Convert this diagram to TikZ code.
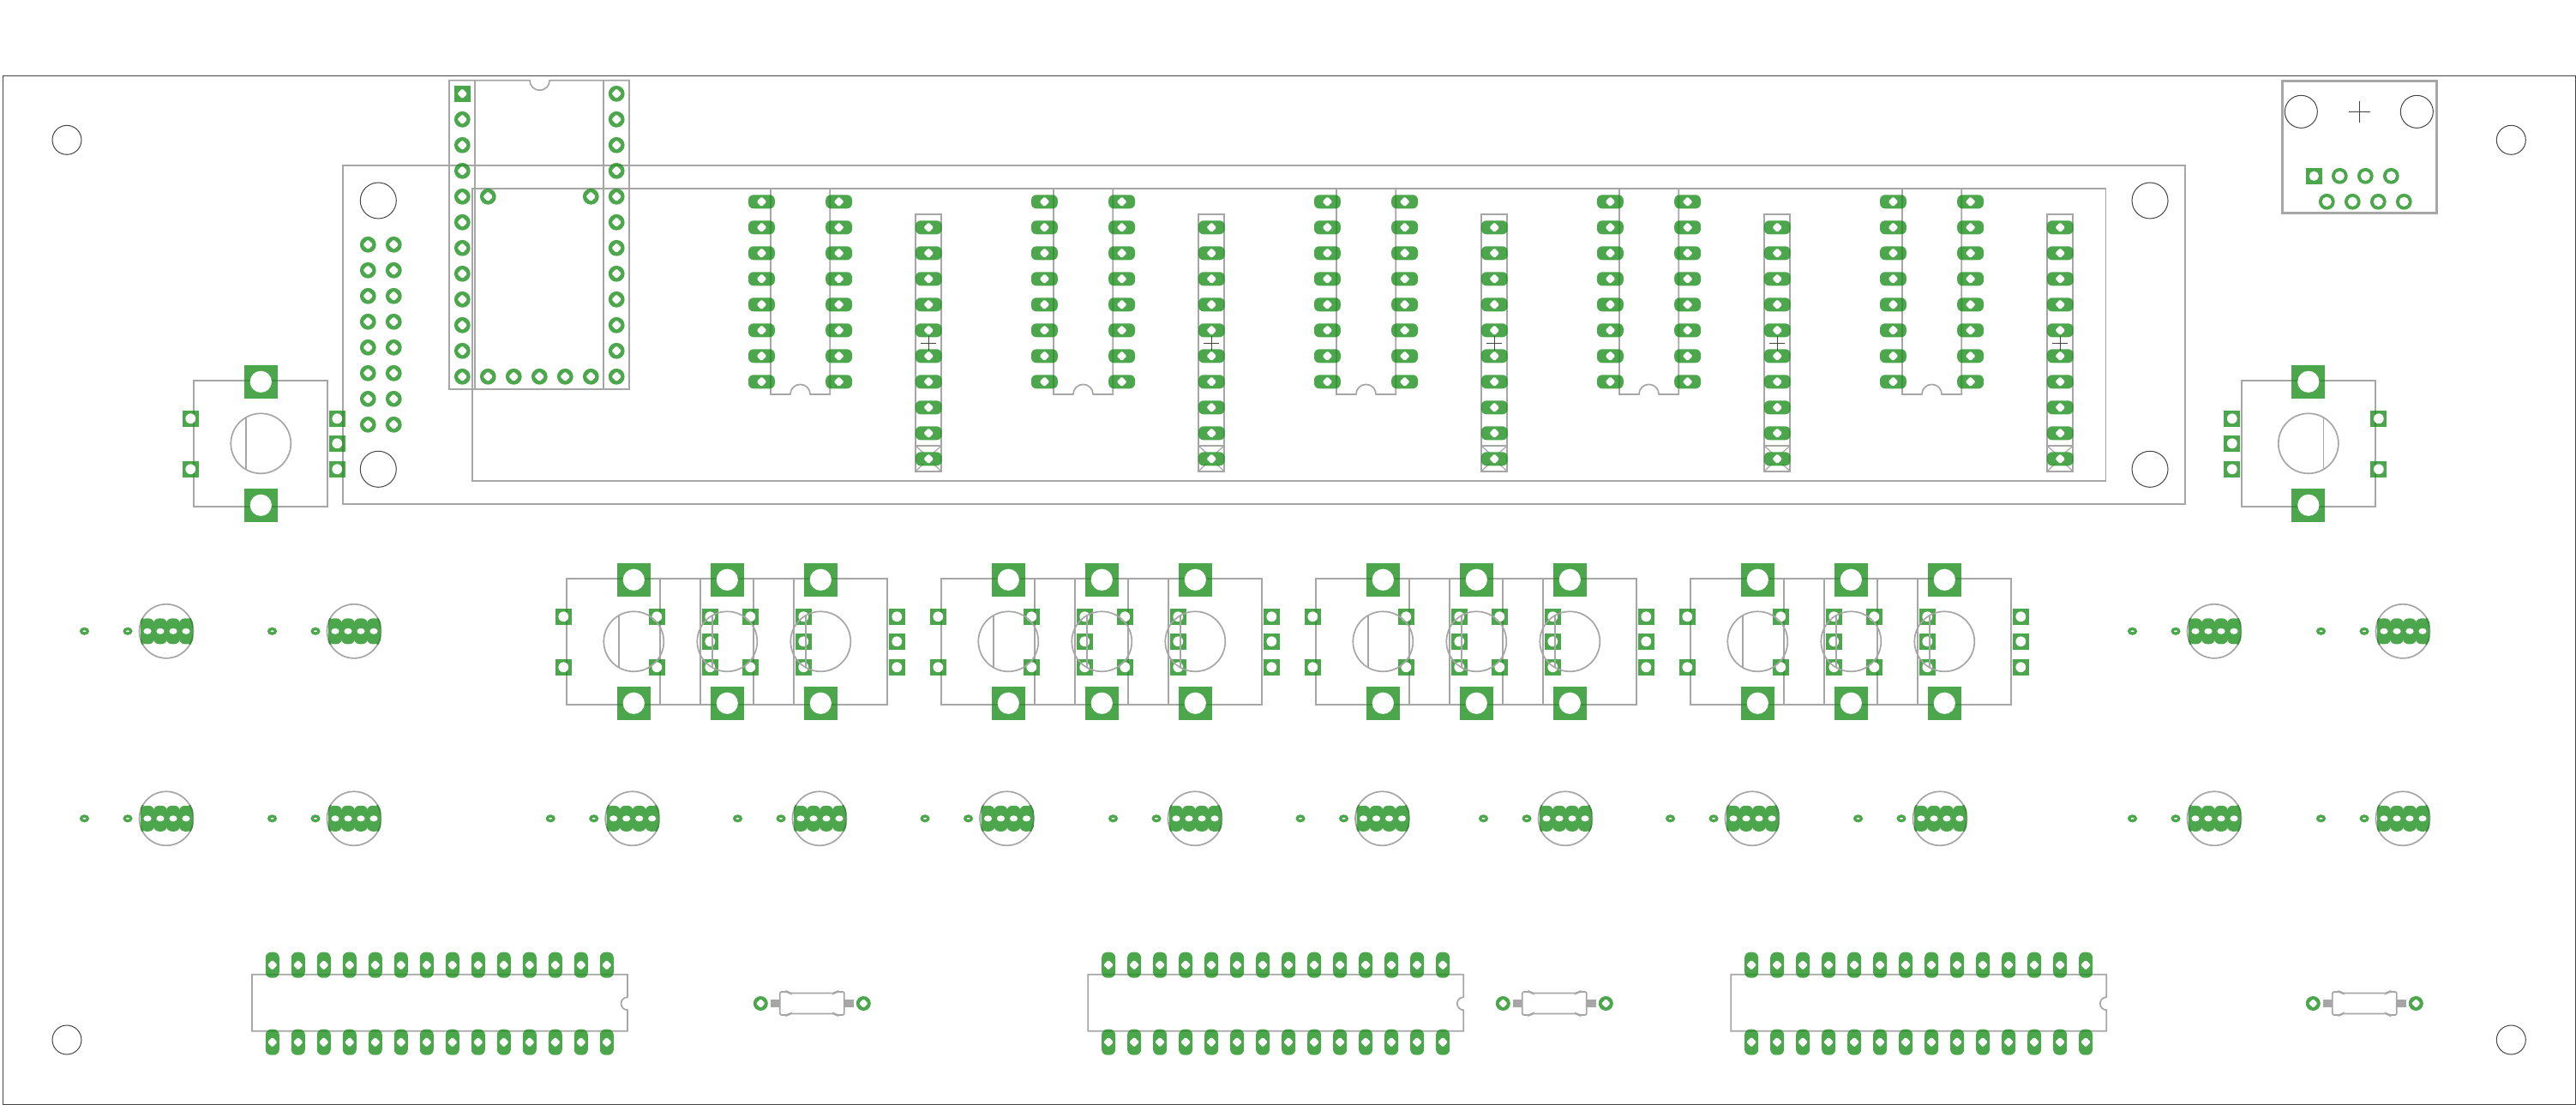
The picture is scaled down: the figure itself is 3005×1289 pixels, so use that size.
\documentclass[tikz,border=0pt]{standalone}
\definecolor{pcbgreen}{HTML}{1A8D1A}
\definecolor{pcbsolid}{HTML}{4CA64C}
\definecolor{pcbdark}{HTML}{3A8A3A}
\definecolor{outl}{HTML}{A6A6A6}
\definecolor{thinl}{HTML}{444444}
\tikzset{
  ln/.style={draw=outl,line width=1.7pt,line join=miter},
  thin line/.style={draw=thinl,line width=1pt},
  padfill/.style={fill=pcbgreen,fill opacity=.78},
}
\newcommand\hol[3]{\fill[white,shift={(#1,#2)},scale=#3] (-4.9,-1)--(-1,-4.9)--(1,-4.9)--(4.9,-1)--(4.9,1)--(1,4.9)--(-1,4.9)--(-4.9,1)--cycle;}
\newcommand\ringpad[2]{\fill[padfill] (#1,#2) circle[radius=9.4];\hol{#1}{#2}{1}}
\newcommand\sqpad[2]{\fill[padfill] ({#1-9.5},{#2-9.5}) rectangle ({#1+9.5},{#2+9.5});\hol{#1}{#2}{1}}
\newcommand\ringbig[2]{\fill[padfill] (#1,#2) circle[radius=9.4];\fill[white] (#1,#2) circle[radius=5.6];}
\newcommand\hpad[2]{\fill[padfill,rounded corners=6pt] ({#1-15.4},{#2-8}) rectangle ({#1+15.4},{#2+8});\hol{#1}{#2}{1}}
\newcommand\vpad[2]{\fill[padfill,rounded corners=6.5pt] ({#1-8},{#2-15}) rectangle ({#1+8},{#2+15});\hol{#1}{#2}{1}}
\newcommand\potrect[3]{\begin{scope}[shift={(#1,#2)},xscale=#3]\draw[ln] (-78,-73.6) rectangle (78,73.4);\end{scope}}
\newcommand\potpads[3]{\begin{scope}[shift={(#1,#2)},xscale=#3]
  \foreach \yy in {-72,72}{\fill[padfill] (-19.5,{\yy-19.5}) rectangle (19.5,{\yy+19.5});\fill[white] (0,\yy) circle[radius=12.6];}
  \foreach \yy in {-29,30}{\fill[padfill] (-91.5,{\yy-9.5}) rectangle (-72.5,{\yy+9.5});\fill[white] (-82,\yy) circle[radius=5.9];}
  \foreach \yy in {-29,0,30}{\fill[padfill] (79.5,{\yy-9.5}) rectangle (98.5,{\yy+9.5});\fill[white] (89,\yy) circle[radius=5.9];}
\end{scope}}
\newcommand\potcirc[3]{\begin{scope}[shift={(#1,#2)},xscale=#3]
  \draw[ln] (0,0) circle[radius=35];
  \draw[ln] (-17.6,-30.2) -- (-17.6,30.2);
  \draw[draw=outl,line width=1pt] (-36,0) -- (-34,0);
\end{scope}}
\newcommand\led[2]{
  \draw[ln] (#1,#2) circle[radius=31.5];
  \foreach \dx in {-95.5,-45}{\fill[pcbsolid] ({#1+\dx},#2) ellipse[x radius=5.6,y radius=4.6];\fill[white] ({#1+\dx},#2) ellipse[x radius=2,y radius=.9];}
  \foreach \dx in {-22,-7,8,23}{\fill[pcbsolid,rounded corners=6.5pt] ({#1+\dx-8},{#2-15}) rectangle ({#1+\dx+8},{#2+15});}
  \fill[pcbsolid] ({#1+23},{#2-10}) rectangle ({#1+31},{#2+10});
  \foreach \dx in {-22,-7,8,23}{\fill[white] ({#1+\dx},#2) ellipse[x radius=4.6,y radius=3.5];}
  \begin{scope}\clip ({#1-30},{#2-15}) rectangle ({#1+31},{#2+15});\draw[draw=pcbdark,line width=1.7pt] (#1,#2) circle[radius=31.5];\end{scope}
}
\newcommand\icline[1]{\begin{scope}[shift={(#1,0)}]
  \draw[ln] (294,1136.7) -- (732,1136.7) -- (732,1163.2) arc[start angle=270,end angle=90,radius=7.5] -- (732,1202.7) -- (294,1202.7) -- cycle;
\end{scope}}
\newcommand\icpads[1]{\foreach \k in {0,...,13}{\vpad{#1+317.8+30*\k}{1125.7}\vpad{#1+317.8+30*\k}{1215.7}}}
\newcommand\res[1]{\begin{scope}[shift={(#1,1170.5)}]
  \fill[outl] (-48.5,-4.4) rectangle (-37.5,4.4);
  \fill[outl] (37.5,-4.4) rectangle (48.5,4.4);
  \draw[ln,rounded corners=2pt] (-37.5,-13.5) -- (-28,-13.5) -- (-26.5,-12) -- (26.5,-12) -- (28,-13.5) -- (37.5,-13.5) -- (37.5,13.5) -- (28,13.5) -- (26.5,12) -- (-26.5,12) -- (-28,13.5) -- (-37.5,13.5) -- cycle;
  \foreach \dx in {-60,60}{\fill[padfill] (\dx,0) circle[radius=8.5];\hol{\dx}{0}{.9}}
\end{scope}}
\begin{document}
\begin{tikzpicture}[x=1pt,y=-1pt]
\useasboundingbox (0,0) rectangle (3005,1289);
% board and holes
\draw[thin line] (3,88.3) rectangle (3004,1288);
\foreach \cx/\cy in {78/163.3,2929.3/163.3,78/1213,2929.3/1213}{\draw[thin line] (\cx,\cy) circle[radius=17];}
\foreach \cx/\cy in {441.3/234,2508/234,441.3/547.3,2508/547.3}{\draw[thin line] (\cx,\cy) circle[radius=21];}
% display outlines
\draw[ln] (400,192.7) rectangle (2549,587.7);
\draw[ln] (551.3,220) rectangle (2456.5,560.7);
% 28-pin socket
\draw[ln] (524,93.7) -- (617.9,93.7) arc[start angle=180,end angle=0,radius=11.6] -- (734,93.7) -- (734,454) -- (524,454) -- cycle;
\draw[ln] (554,93.7) -- (554,454);
\draw[ln] (704,93.7) -- (704,454);
% digit sockets
\foreach \k in {0,...,4}{
  \begin{scope}[shift={(330*\k,0)}]
    \draw[ln] (899,220) -- (899,460) -- (921.9,460) arc[start angle=180,end angle=360,radius=11.6] -- (968.3,460) -- (968.3,220);
    \draw[ln] (1068,250) rectangle (1098.2,550);
    \draw[ln] (1068,520) -- (1098.2,520);
    \draw[draw=outl,line width=1.2pt] (1068,520) -- (1077,528) (1098.2,520) -- (1089,528) (1068,550) -- (1077,541) (1098.2,550) -- (1089,541);
  \end{scope}
}
% potentiometer outlines
\potrect{304.3}{517.3}{1}
\potrect{2692.8}{517.3}{-1}
\foreach \g in {0,...,3}{\foreach \k in {0,1,2}{\potrect{739.3+437*\g+109*\k}{748.3}{1}}}
% IC outlines
\icline{0}\icline{975.3}\icline{1725.3}
% top right connector
\draw[draw=outl,line width=2.6pt] (2662.3,94.3) rectangle (2842.7,248.3);
\draw[thin line] (2684.3,130.3) circle[radius=19];
\draw[thin line] (2819.3,130.3) circle[radius=19];
\draw[thin line] (2740,130.3) -- (2764.6,130.3) (2752.3,118) -- (2752.3,142.6);
% socket pads
\fill[padfill] (529.8,99.8) rectangle (548.8,118.8);\hol{539.3}{109.3}{1}
\foreach \k in {1,...,11}{\ringpad{539.3}{109.3+30*\k}}
\foreach \k in {0,...,11}{\ringpad{719.2}{109.3+30*\k}}
\foreach \k in {1,...,5}{\ringpad{539.3+30*\k}{439.3}}
\ringpad{569.3}{229.3}
\ringpad{689.3}{229.3}
% left header
\foreach \k in {0,...,7}{\ringpad{429.3}{285.3+30*\k}\ringpad{459.3}{285.3+30*\k}}
% digit pads
\foreach \k in {0,...,4}{
  \foreach \j in {0,...,7}{\hpad{888.4+330*\k}{235.3+30*\j}\hpad{978.6+330*\k}{235.3+30*\j}}
  \foreach \j in {0,...,9}{\hpad{1083.3+330*\k}{265.3+30*\j}}
}
% pot pads
\potpads{304.3}{517.3}{1}
\potpads{2692.8}{517.3}{-1}
\foreach \g in {0,...,3}{\foreach \k in {0,1,2}{\potpads{739.3+437*\g+109*\k}{748.3}{1}}}
\potcirc{304.3}{517.3}{1}
\potcirc{2692.8}{517.3}{-1}
\foreach \g in {0,...,3}{\foreach \k in {0,1,2}{\potcirc{739.3+437*\g+109*\k}{748.3}{1}}}
% LEDs
\foreach \cx in {194,413,2583,2803}{\led{\cx}{736.3}}
\foreach \cx in {194,413,737.7,956,1174.5,1394,1612.5,1826,2044,2263,2583,2803}{\led{\cx}{954.8}}
% IC pads
\icpads{0}\icpads{975.3}\icpads{1725.3}
% resistors
\res{947.3}\res{1813.3}\res{2758.3}
% connector pads
\fill[padfill] (2689.8,195.8) rectangle (2708.8,214.8);\fill[white] (2699.3,205.3) circle[radius=5.6];
\foreach \k in {1,2,3}{\ringbig{2699.3+30*\k}{205.3}}
\foreach \k in {0,1,2,3}{\ringbig{2714.3+30*\k}{235.3}}
% digit crosses
\foreach \k in {0,...,4}{
  \draw[thin line] ({1074.4+330*\k},400.3) -- ({1092.4+330*\k},400.3) ({1083.4+330*\k},391.5) -- ({1083.4+330*\k},409.1);
}
\end{tikzpicture}
\end{document}
